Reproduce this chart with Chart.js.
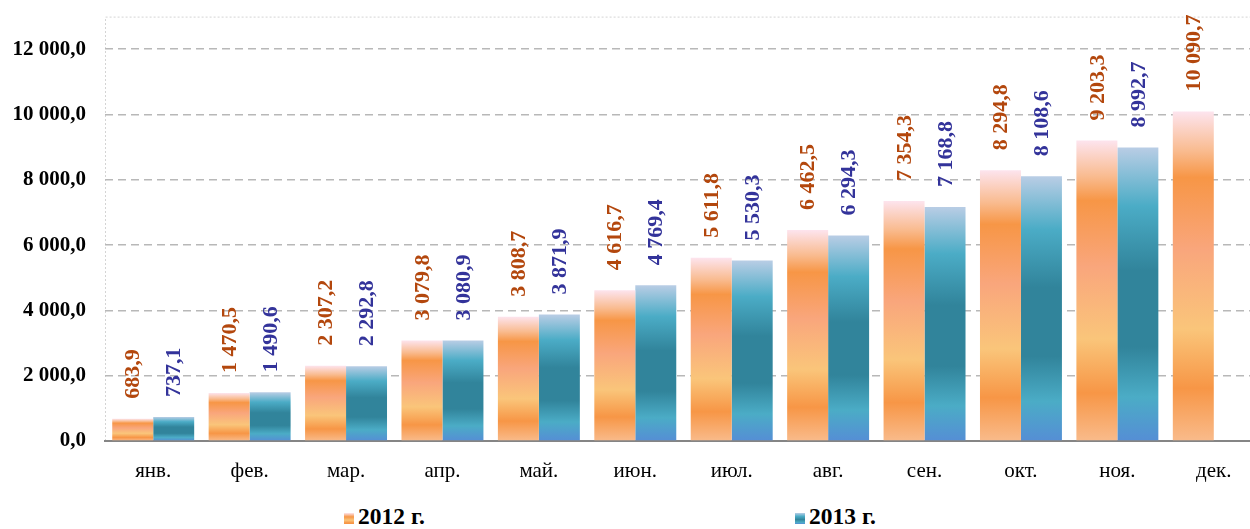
<!DOCTYPE html>
<html>
<head>
<meta charset="utf-8">
<script src="https://cdn.jsdelivr.net/npm/chart.js@4.4.0/dist/chart.umd.min.js"></script>
<style>
    html, body { margin: 0; padding: 0; background: #fff; overflow: hidden; }
    #wrap { position: relative; width: 1250px; height: 529px; overflow: hidden; }
    #chart { position: absolute; left: 0; top: -15px; }
    .leg { position: absolute; top: 503px; line-height: 28px; font: bold 23.5px "Liberation Serif", "Times New Roman", serif; color: #000; white-space: nowrap; }
    .leg i { display: inline-block; width: 10px; height: 11px; margin-right: 4px; vertical-align: 0px; }
</style>
</head>
<body>
<div id="wrap">
    <canvas id="chart" width="1262" height="505" style="width:1262px;height:505px"></canvas>
    <div class="leg" style="left:344px"><i style="background:linear-gradient(#fde4ee,#f79646 35%,#fac57a 65%,#f79646 90%)"></i>2012 г.</div>
    <div class="leg" style="left:795px"><i style="background:linear-gradient(#b9cde5,#4bacc6 30%,#31849b 60%,#4bacc6 85%,#558ed5)"></i>2013 г.</div>
</div>
<script>
// данные
const months = ['янв.', 'фев.', 'мар.', 'апр.', 'май.', 'июн.', 'июл.', 'авг.', 'сен.', 'окт.', 'ноя.', 'дек.'];
const values2012 = [683.9, 1470.5, 2307.2, 3079.8, 3808.7, 4616.7, 5611.8, 6462.5, 7354.3, 8294.8, 9203.3, 10090.7];
const values2013 = [737.1, 1490.6, 2292.8, 3080.9, 3871.9, 4769.4, 5530.3, 6294.3, 7168.8, 8108.6, 8992.7, null];
const yTickValues = [0, 2000, 4000, 6000, 8000, 10000, 12000];

// "12 000,0"
function fmt(v) {
    const parts = v.toFixed(1).split('.');
    return parts[0].replace(/\B(?=(\d{3})+(?!\d))/g, ' ') + ',' + parts[1];
}

const orangeStops = [[0, '#fde4ee'], [0.12, '#f9bb8f'], [0.2, '#f79646'], [0.42, '#f9a67c'], [0.66, '#fac57a'], [0.84, '#f79646'], [1, '#f9bb8b']];
const tealStops = [[0, '#b9cde5'], [0.2, '#4bacc6'], [0.42, '#31849b'], [0.68, '#31849b'], [0.85, '#4bacc6'], [1, '#558ed5']];

// градиент на каждый столбец отдельно
function barGradient(stops) {
    return function(ctx) {
        const chart = ctx.chart;
        const ys = chart.scales.y;
        if (!ys || ctx.raw == null) return stops[2][1];
        const top = ys.getPixelForValue(ctx.raw);
        const base = ys.getPixelForValue(0);
        if (!isFinite(top) || !isFinite(base) || top === base) return stops[2][1];
        const g = chart.ctx.createLinearGradient(0, top, 0, base);
        stops.forEach(s => g.addColorStop(s[0], s[1]));
        return g;
    };
}

// рамка области построения (пунктир)
const plotBorder = {
    id: 'plotBorder',
    beforeDraw(chart) {
        const { ctx, chartArea: a } = chart;
        ctx.save();
        ctx.strokeStyle = '#d4d4d4';
        ctx.lineWidth = 1;
        ctx.setLineDash([2, 2]);
        ctx.beginPath();
        ctx.moveTo(a.left + 0.5, a.bottom);
        ctx.lineTo(a.left + 0.5, a.top + 0.5);
        ctx.lineTo(a.right - 0.5, a.top + 0.5);
        ctx.lineTo(a.right - 0.5, a.bottom);
        ctx.stroke();
        ctx.restore();
    }
};

// вертикальные подписи значений
const labelColors = ['#b3470d', '#33339a'];
const valueLabels = {
    id: 'valueLabels',
    afterDatasetsDraw(chart) {
        const ctx = chart.ctx;
        ctx.save();
        ctx.font = 'bold 22px "Liberation Serif", "Times New Roman", serif';
        ctx.textAlign = 'left';
        ctx.textBaseline = 'middle';
        chart.data.datasets.forEach((ds, i) => {
            const meta = chart.getDatasetMeta(i);
            meta.data.forEach((bar, j) => {
                const v = ds.data[j];
                if (v == null) return;
                ctx.save();
                ctx.translate(bar.x + 1, bar.y - 20);
                ctx.rotate(-Math.PI / 2);
                ctx.fillStyle = labelColors[i];
                ctx.fillText(fmt(v), 0, 0);
                ctx.restore();
            });
        });
        ctx.restore();
    }
};

new Chart(document.getElementById('chart'), {
    type: 'bar',
    data: {
        labels: months,
        datasets: [{
            label: '2012 г.',
            data: values2012,
            backgroundColor: barGradient(orangeStops),
            borderWidth: 0,
            categoryPercentage: 0.85,
            barPercentage: 1
        }, {
            label: '2013 г.',
            data: values2013,
            backgroundColor: barGradient(tealStops),
            borderWidth: 0,
            categoryPercentage: 0.85,
            barPercentage: 1
        }]
    },
    options: {
        responsive: false,
        animation: false,
        layout: { padding: { top: 0, left: 0, right: 0, bottom: 0 } },
        scales: {
            x: {
                grid: { display: false, drawTicks: false },
                border: { display: true, color: '#858585', width: 2 },
                ticks: {
                    padding: 18,
                    color: '#000',
                    font: { family: '"Liberation Serif", "Times New Roman", serif', size: 21 }
                },
                afterFit: s => { s.height = 49; }
            },
            y: {
                min: 0,
                max: 13000,
                afterBuildTicks: s => { s.ticks = yTickValues.map(v => ({ value: v })); },
                ticks: {
                    padding: 19,
                    color: '#000',
                    font: { family: '"Liberation Serif", "Times New Roman", serif', size: 21, weight: 'bold' },
                    callback: v => fmt(v)
                },
                grid: {
                    drawTicks: false,
                    lineWidth: 1.5,
                    color: c => (c.tick && c.tick.value === 0) ? 'rgba(0,0,0,0)' : '#b8b8b8'
                },
                border: { display: false, dash: [8, 5] },
                afterFit: s => { s.width = 105; }
            }
        },
        plugins: {
            legend: { display: false },
            tooltip: { enabled: false }
        }
    },
    plugins: [plotBorder, valueLabels]
});
</script>
</body>
</html>
